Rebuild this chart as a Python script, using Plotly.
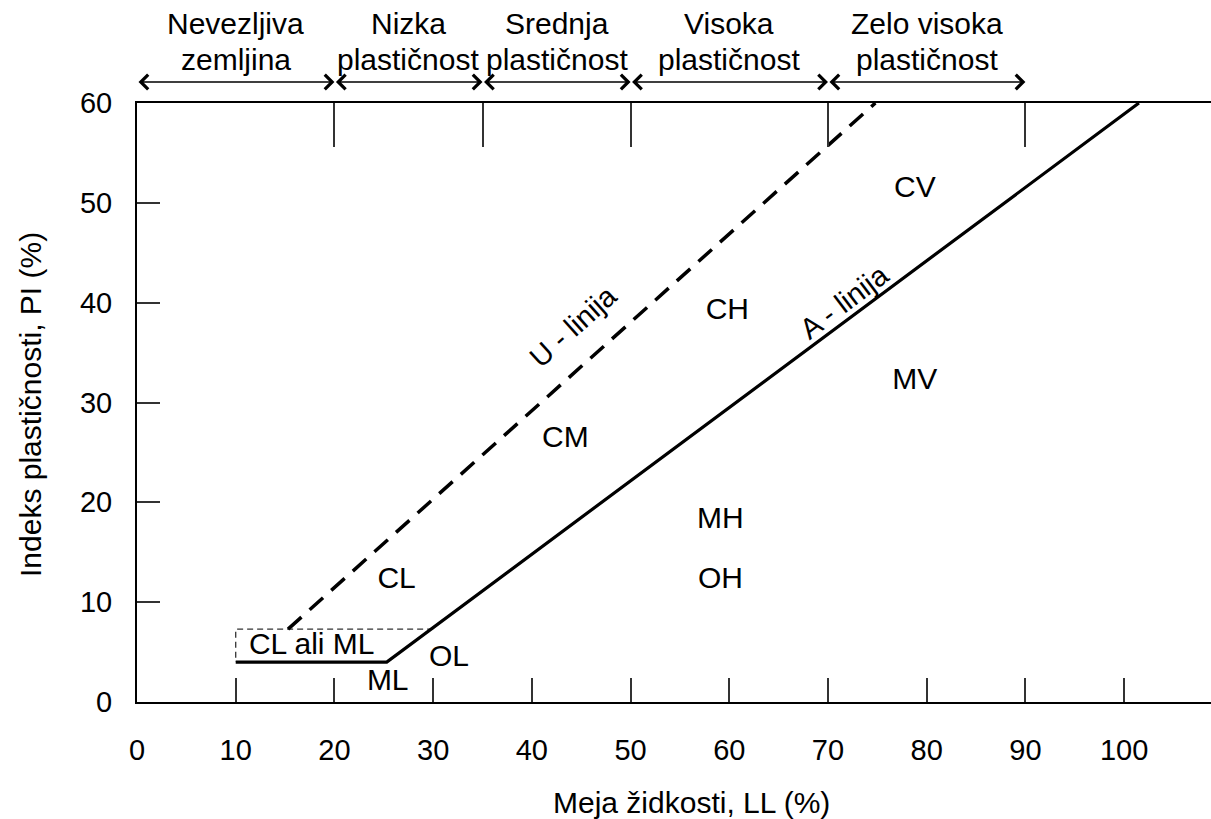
import plotly.graph_objects as go

# ---------------- data ----------------
ll_ticks = [0, 10, 20, 30, 40, 50, 60, 70, 80, 90, 100]
pi_ticks = [0, 10, 20, 30, 40, 50, 60]
top_ticks = [20, 35, 50, 70, 90]
zone_bounds = [0, 20, 35, 50, 70, 90]
zone_labels = ["Nevezljiva<br>zemljina", "Nizka<br>plastičnost", "Srednja<br>plastičnost",
               "Visoka<br>plastičnost", "Zelo visoka<br>plastičnost"]

a_line_ll = [10, 25.3, 101.5]
a_line_pi = [4, 4, 60]
u_line_ll = [15.3, 74.8]
u_line_pi = [7.3, 60]
box_ll = [30.0, 10, 10]
box_pi = [7.3, 7.3, 4]

region_names = ["CV", "CH", "MV", "CM", "MH", "OH", "CL", "CL ali ML", "ML", "OL"]
region_ll = [78.8, 59.8, 78.8, 43.4, 59.1, 59.1, 26.3, 17.7, 25.4, 31.6]
region_pi = [51.3, 39.1, 32.1, 26.3, 18.2, 12.2, 12.2, 5.6, 1.95, 4.35]

line_labels = ["U - linija", "A - linija"]
line_label_ll = [44.2, 71.6]
line_label_pi = [37.7, 40.1]
line_label_angle = [-42, -37]

x_title = "Meja židkosti, LL (%)"
y_title = "Indeks plastičnosti, PI (%)"

FONT = "Arial, Liberation Sans, sans-serif"
W, H = 1211, 819
ML, MR, MT, MB = 137, 0, 103, 117
PH = H - MT - MB
PW = W - ML - MR

fig = go.Figure()

fig.add_trace(go.Scatter(x=box_ll, y=box_pi, mode="lines",
                         line=dict(color="#333333", width=1.3, dash="6px,4px"),
                         hoverinfo="skip", showlegend=False))
fig.add_trace(go.Scatter(x=a_line_ll, y=a_line_pi, mode="lines",
                         line=dict(color="black", width=3.2),
                         hoverinfo="skip", showlegend=False))
fig.add_trace(go.Scatter(x=u_line_ll, y=u_line_pi, mode="lines",
                         line=dict(color="black", width=3.5, dash="18px,11px"),
                         hoverinfo="skip", showlegend=False))
fig.add_trace(go.Scatter(x=region_ll, y=region_pi, mode="text", text=region_names,
                         textposition="middle center",
                         textfont=dict(family=FONT, size=30, color="black"),
                         hoverinfo="skip", showlegend=False))
# invisible trace to carry the top axis
fig.add_trace(go.Scatter(x=top_ticks, y=[60] * len(top_ticks), mode="markers",
                         marker=dict(opacity=0), xaxis="x2",
                         hoverinfo="skip", showlegend=False))

annotations = []
for lbl, x, y, ang in zip(line_labels, line_label_ll, line_label_pi, line_label_angle):
    annotations.append(dict(x=x, y=y, xref="x", yref="y", text=lbl, showarrow=False,
                            textangle=ang, font=dict(family=FONT, size=29, color="black")))

arrow_y = 1 + (MT - 82) / PH
line_ys = [1 + (MT - 23) / PH, 1 + (MT - 59) / PH]
for a, b, lbl in zip(zone_bounds[:-1], zone_bounds[1:], zone_labels):
    annotations.append(dict(x=b, y=arrow_y, xref="x", yref="paper",
                            ax=a, ay=0, axref="x", ayref="pixel",
                            showarrow=True, arrowside="end+start",
                            arrowhead=4, startarrowhead=4,
                            arrowsize=1.9, startarrowsize=1.9,
                            arrowwidth=1.5, arrowcolor="black",
                            standoff=0, startstandoff=0, text=""))
    for part, ly in zip(lbl.split("<br>"), line_ys):
        annotations.append(dict(x=(a + b) / 2, y=ly, xref="x", yref="paper",
                                text=part, showarrow=False, yanchor="middle",
                                font=dict(family=FONT, size=30, color="black")))

annotations.append(dict(x=(691 - ML) / PW, y=-(802 - (H - MB)) / PH,
                        xref="paper", yref="paper", text=x_title, showarrow=False,
                        xanchor="center", yanchor="middle",
                        font=dict(family=FONT, size=30, color="black")))
annotations.append(dict(x=(30 - ML) / PW, y=((H - MB) - 405) / PH,
                        xref="paper", yref="paper", text=y_title, showarrow=False,
                        textangle=-90, xanchor="center", yanchor="middle",
                        font=dict(family=FONT, size=30, color="black")))

fig.update_layout(
    width=W, height=H,
    margin=dict(l=ML, r=MR, t=MT, b=MB, autoexpand=False),
    paper_bgcolor="white", plot_bgcolor="white",
    font=dict(family=FONT, size=29, color="black"),
    showlegend=False,
    annotations=annotations,
    xaxis=dict(range=[0, 108.8], tickvals=ll_ticks, ticks="inside", ticklen=24,
               tickwidth=1.5, tickcolor="#333333", showline=True, linewidth=2,
               linecolor="black", showgrid=False, zeroline=False,
               ticklabelstandoff=21, tickfont=dict(family=FONT, size=29),
               automargin=False, fixedrange=True),
    xaxis2=dict(range=[0, 108.8], overlaying="x", side="top", tickvals=top_ticks,
                ticks="inside", ticklen=44, tickwidth=1.5, tickcolor="#333333",
                showticklabels=False, showline=True, linewidth=2, linecolor="black",
                showgrid=False, zeroline=False, automargin=False, fixedrange=True),
    yaxis=dict(range=[0, 60], tickvals=pi_ticks, ticks="inside", ticklen=23,
               tickwidth=1.5, tickcolor="#333333", showline=True, linewidth=2,
               linecolor="black", showgrid=False, zeroline=False,
               ticklabelstandoff=17, tickfont=dict(family=FONT, size=29),
               automargin=False, fixedrange=True),
)

fig.write_html("out.html", config={"displayModeBar": False},
               post_script="document.body.style.margin='0';document.body.style.overflow='hidden';")
